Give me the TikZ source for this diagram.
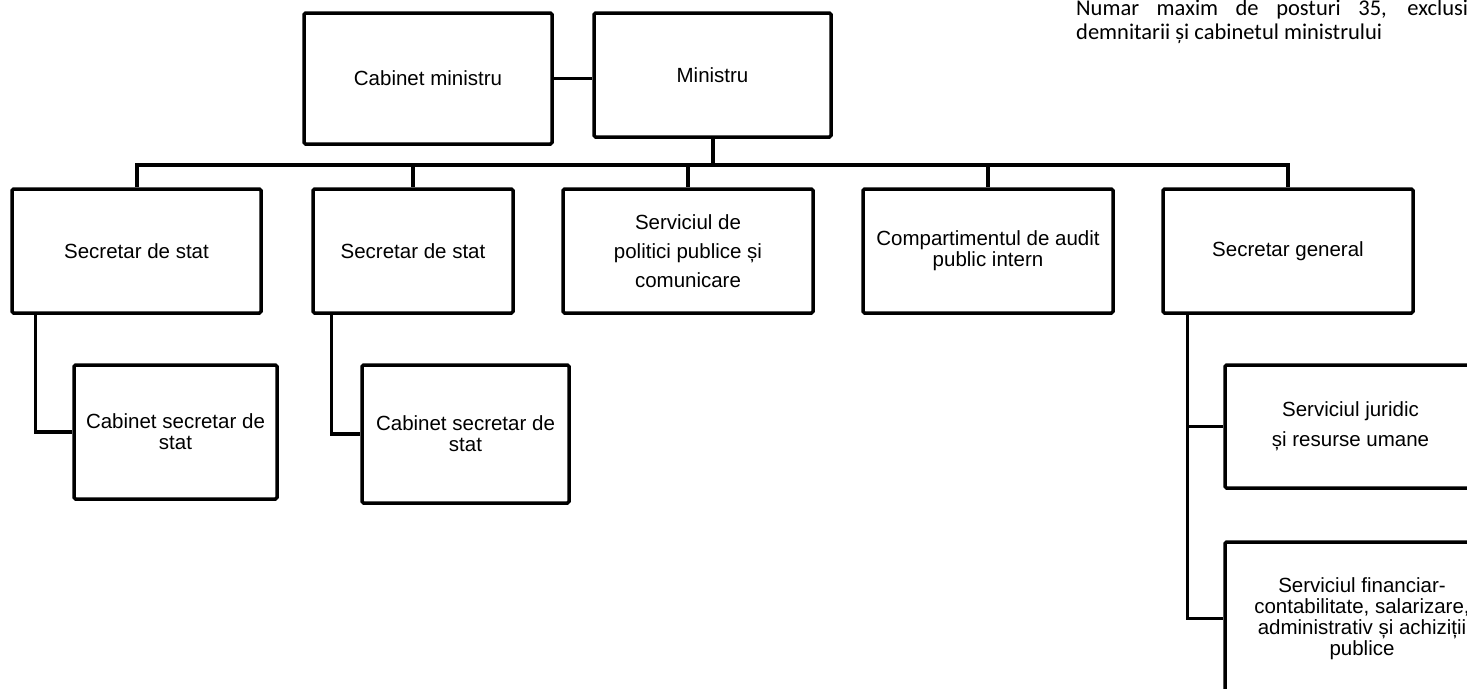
\documentclass[tikz,border=0pt]{standalone}
\usepackage{fontspec}
\setmainfont{Liberation Sans}
\newfontfamily\notefont{Carlito}

\begin{document}
\begin{tikzpicture}[x=1pt, y=-1pt,
        box/.style={draw, line width=3.5pt, rounded corners=1.5pt, inner sep=0pt,
            align=center, font=\fontsize{20.5}{21}\selectfont},
        link/.style={line width=3.2pt},
        trunk/.style={line width=4pt}]
        \clip (0,0) rectangle (1467,688);
        % conducere
        \node[box, minimum width=248, minimum height=131] (cabmin) at (428,78.5) {Cabinet ministru};
        \node[box, minimum width=237, minimum height=124] (min) at (712.5,75) {Ministru};
        % primul nivel
        \node[box, minimum width=249, minimum height=124] (sec1) at (136.5,251) {Secretar de stat};
        \node[box, minimum width=200, minimum height=124] (sec2) at (413,251) {Secretar de stat};
        \node[box, minimum width=250, minimum height=124] (pol) at (688,251) {Serviciul de\\[8pt]politici publice și\\[8pt]comunicare};
        \node[box, minimum width=250, minimum height=124] (audit) at (988,251) {Compartimentul de audit\\public intern};
        \node[box, minimum width=250, minimum height=124] (secgen) at (1288,251) {Secretar general};
        % cabinete si servicii
        \node[box, minimum width=203, minimum height=134] (cab1) at (175.5,432) {Cabinet secretar de\\stat};
        \node[box, minimum width=207, minimum height=138] (cab2) at (465.5,434) {Cabinet secretar de\\stat};
        \node[box, minimum width=251, minimum height=123] (jur) at (1350.5,426.5) {Serviciul juridic\\[9pt]și resurse umane};
        \node[box, minimum width=274, minimum height=153] (fin) at (1362,618.5) {Serviciul financiar-\\contabilitate, salarizare,\\administrativ și achiziții\\publice};
        % nota
        \node[anchor=base west, inner sep=0pt] (nota) at (1076,16) {\parbox[t]{402pt}{\notefont\fontsize{22.5}{24}\selectfont
            Numar maxim de posturi 35, exclusiv\linebreak demnitarii și cabinetul ministrului}};
        % legaturi
        \draw[link] (cabmin) -- (cabmin -| min.west);
        \draw[trunk] (min.south) -- ++(0,26) coordinate (bus);
        \draw[trunk] (sec1.north) |- (bus) -| (secgen.north);
        \draw[link] (sec2.north |- bus) -- (sec2.north);
        \draw[link] (pol.north |- bus) -- (pol.north);
        \draw[link] (audit.north |- bus) -- (audit.north);
        \draw[link] ([xshift=25pt]sec1.south west) |- (cab1);
        \draw[link] ([xshift=20pt]sec2.south west) |- (cab2);
        \coordinate (sgdown) at ([xshift=26pt]secgen.south west);
        \draw[link] (sgdown) |- (fin);
        \draw[link] (sgdown |- jur.west) -- (jur.west);
    \end{tikzpicture}
\end{document}
